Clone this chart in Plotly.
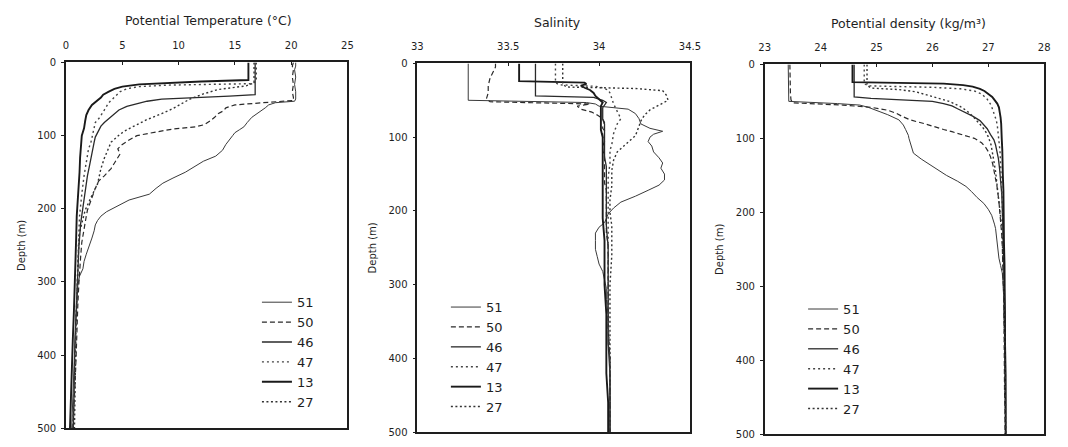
import plotly.graph_objects as go

# Station order and line styles
stations = ["51", "50", "46", "47", "13", "27"]
dash_style = {"51": "solid", "50": "5px,3px", "46": "solid", "47": "2px,3px", "13": "solid", "27": "2px,2.5px"}
line_width = {"51": 1.0, "50": 1.2, "46": 1.3, "47": 1.4, "13": 1.9, "27": 1.4}
line_color = {"51": "#3a3a3a", "50": "#2a2a2a", "46": "#2a2a2a", "47": "#444444", "13": "#1a1a1a", "27": "#333333"}

# ---- Station 51 ----
depth_51 = [0, 5, 10, 20, 30, 40, 50, 53, 55, 58, 62, 68, 75, 82, 88, 92, 96, 100, 106, 112,
            120, 128, 135, 142, 150, 158, 165, 172, 180, 188, 196, 204, 210, 216, 222, 230,
            240, 252, 262, 272, 282, 292, 305, 320, 340, 360, 380, 400, 425, 450, 475, 500]
temp_51 = [20.4, 20.4, 20.3, 20.4, 20.3, 20.4, 20.4, 20.3, 18.6, 18.0, 17.7, 17.1, 16.5, 16.1, 15.8, 15.4,
           15.0, 14.8, 14.5, 14.2, 13.9, 13.3, 12.2, 11.5, 10.6, 9.5, 8.6, 8.0, 7.4, 5.6, 4.6, 3.6,
           3.1, 2.8, 2.6, 2.5, 2.3, 2.0, 1.8, 1.6, 1.5, 1.2, 1.05, 1.0, 0.9, 0.85, 0.8, 0.75, 0.65,
           0.6, 0.55, 0.5]
sal_51 = [33.28, 33.28, 33.28, 33.28, 33.28, 33.28, 33.28, 33.93, 33.98, 34.0, 34.16, 34.2, 34.22, 34.23,
          34.28, 34.35, 34.3, 34.28, 34.27, 34.29, 34.3, 34.33, 34.35, 34.34, 34.36, 34.36, 34.33,
          34.27, 34.2, 34.12, 34.08, 34.05, 34.04, 34.03, 34.0, 33.98, 33.98, 33.98, 33.99, 34.0,
          34.02, 34.03, 34.04, 34.04, 34.05, 34.05, 34.05, 34.06, 34.06, 34.06, 34.06, 34.06]
sigma_51 = [23.42, 23.42, 23.42, 23.42, 23.42, 23.42, 23.43, 24.3, 24.7, 24.85, 25.0, 25.2, 25.4, 25.48,
            25.52, 25.55, 25.57, 25.58, 25.6, 25.62, 25.66, 25.8, 25.95, 26.1, 26.25, 26.45, 26.6,
            26.7, 26.8, 26.92, 27.0, 27.06, 27.09, 27.11, 27.13, 27.14, 27.16, 27.17, 27.19, 27.22,
            27.25, 27.26, 27.27, 27.28, 27.28, 27.29, 27.29, 27.3, 27.3, 27.3, 27.31, 27.31]

# ---- Station 50 ----
depth_50 = [0, 5, 10, 20, 30, 40, 48, 52, 55, 58, 62, 66, 70, 75, 80, 85, 88, 91, 95, 100, 106, 112,
            118, 125, 135, 145, 155, 162, 172, 185, 195, 202, 210, 219, 230, 246, 265, 285, 300,
            330, 360, 400, 440, 470, 500]
temp_50 = [20.2, 20.1, 20.2, 20.1, 20.2, 20.1, 20.2, 20.2, 17.5, 15.0, 14.2, 14.0, 13.5, 13.2, 12.8,
           12.3, 11.5, 9.5, 8.0, 6.3, 5.6, 5.0, 4.6, 4.8, 4.4, 4.0, 3.4, 2.9, 2.6, 2.3, 2.0, 1.9,
           1.8, 1.7, 1.6, 1.4, 1.3, 1.2, 1.15, 1.05, 1.0, 0.9, 0.8, 0.7, 0.6]
sal_50 = [33.43, 33.43, 33.42, 33.40, 33.39, 33.39, 33.38, 33.40, 33.95, 33.88, 33.9, 33.96, 33.99,
          34.02, 34.03, 34.02, 34.02, 34.03, 34.02, 34.02, 34.03, 34.02, 34.02, 34.03, 34.03, 34.03,
          34.03, 34.03, 34.04, 34.04, 34.04, 34.04, 34.04, 34.04, 34.04, 34.05, 34.05, 34.05, 34.05,
          34.05, 34.05, 34.06, 34.06, 34.06, 34.06]
sigma_50 = [23.45, 23.45, 23.45, 23.46, 23.46, 23.46, 23.47, 23.5, 24.4, 24.9, 25.2, 25.35, 25.45,
            25.6, 25.85, 26.05, 26.2, 26.35, 26.55, 26.75, 26.88, 26.95, 27.0, 27.04, 27.08, 27.1,
            27.13, 27.15, 27.17, 27.19, 27.2, 27.21, 27.22, 27.23, 27.24, 27.25, 27.26, 27.27, 27.27,
            27.28, 27.28, 27.29, 27.29, 27.3, 27.3]

# ---- Station 46 ----
depth_46 = [0, 5, 10, 20, 30, 40, 44, 46, 48, 50, 53, 56, 60, 65, 70, 76, 82, 87, 95, 102, 109, 118,
            127, 140, 155, 175, 195, 220, 250, 280, 300, 340, 380, 420, 460, 500]
temp_46 = [16.8, 16.8, 16.8, 16.8, 16.8, 16.8, 16.8, 14.5, 11.0, 8.5, 7.2, 6.3, 5.4, 4.7, 4.3, 3.8,
           3.4, 3.1, 2.8, 2.6, 2.5, 2.4, 2.3, 2.1, 1.9, 1.7, 1.5, 1.3, 1.15, 1.05, 1.0, 0.9, 0.8,
           0.75, 0.7, 0.65]
sal_46 = [33.65, 33.65, 33.65, 33.65, 33.65, 33.65, 33.65, 33.97, 34.0, 34.02, 34.04, 34.03, 34.02,
          34.02, 34.02, 34.02, 34.03, 34.03, 34.03, 34.03, 34.03, 34.03, 34.03, 34.04, 34.04, 34.04,
          34.04, 34.04, 34.05, 34.05, 34.05, 34.05, 34.05, 34.06, 34.06, 34.06]
sigma_46 = [24.6, 24.6, 24.6, 24.6, 24.6, 24.6, 24.6, 24.9, 25.6, 26.0, 26.2, 26.35, 26.45, 26.6,
            26.72, 26.85, 26.93, 26.98, 27.04, 27.1, 27.13, 27.16, 27.18, 27.2, 27.22, 27.24, 27.25,
            27.26, 27.27, 27.28, 27.29, 27.3, 27.3, 27.31, 27.31, 27.31]

# ---- Station 47 ----
depth_47 = [0, 5, 10, 20, 26, 29, 31, 33, 36, 40, 47, 55, 65, 75, 82, 95, 110, 118, 135, 155, 180,
            210, 250, 300, 350, 400, 450, 500]
temp_47 = [16.9, 16.9, 16.9, 16.9, 16.9, 16.5, 9.0, 6.5, 5.4, 4.8, 4.3, 3.8, 3.4, 3.0, 2.6, 2.4,
           2.2, 2.0, 1.8, 1.6, 1.4, 1.2, 1.1, 1.0, 0.9, 0.8, 0.7, 0.6]
sal_47 = [33.76, 33.76, 33.76, 33.76, 33.76, 33.78, 33.98, 34.02, 34.05, 34.06, 34.07, 34.08, 34.1,
          34.12, 34.1, 34.08, 34.07, 34.06, 34.06, 34.05, 34.05, 34.05, 34.05, 34.05, 34.05, 34.06,
          34.06, 34.06]
sigma_47 = [24.78, 24.78, 24.78, 24.78, 24.78, 24.85, 26.0, 26.5, 26.75, 26.88, 26.98, 27.05, 27.1,
            27.14, 27.16, 27.18, 27.2, 27.21, 27.22, 27.23, 27.25, 27.26, 27.27, 27.28, 27.29, 27.3,
            27.3, 27.31]

# ---- Station 13 ----
depth_13 = [0, 5, 10, 15, 20, 24, 26, 28, 30, 33, 36, 40, 44, 48, 53, 58, 65, 72, 80, 90, 100, 115,
            130, 150, 170, 190, 210, 240, 270, 300, 340, 380, 420, 460, 500]
temp_13 = [16.2, 16.2, 16.2, 16.2, 16.2, 16.2, 12.0, 8.4, 6.5, 5.0, 4.3, 3.8, 3.3, 3.1, 2.7, 2.3,
           2.0, 1.8, 1.7, 1.6, 1.4, 1.3, 1.25, 1.2, 1.1, 1.0, 0.95, 0.9, 0.85, 0.8, 0.7, 0.6, 0.5,
           0.4, 0.35]
sal_13 = [33.56, 33.56, 33.56, 33.56, 33.56, 33.56, 33.92, 33.93, 33.9, 33.92, 33.95, 33.97, 33.98,
          34.0, 34.02, 34.01, 34.01, 34.01, 34.01, 34.01, 34.02, 34.02, 34.02, 34.02, 34.02, 34.02,
          34.02, 34.03, 34.03, 34.03, 34.04, 34.04, 34.04, 34.05, 34.05]
sigma_13 = [24.57, 24.57, 24.57, 24.57, 24.57, 24.57, 26.2, 26.55, 26.72, 26.85, 26.93, 27.0, 27.07,
            27.11, 27.16, 27.19, 27.21, 27.22, 27.23, 27.24, 27.24, 27.25, 27.26, 27.26, 27.27, 27.27,
            27.28, 27.28, 27.29, 27.29, 27.3, 27.3, 27.31, 27.31, 27.31]

# ---- Station 27 ----
depth_27 = [0, 5, 10, 20, 28, 32, 34, 37, 43, 50, 57, 63, 70, 78, 85, 92, 98, 109, 120, 131, 145,
            166, 185, 202, 220, 233, 260, 300, 350, 400, 450, 500]
temp_27 = [16.7, 16.7, 16.7, 16.7, 16.7, 16.0, 15.0, 13.5, 12.2, 11.0, 10.2, 9.5, 8.5, 7.2, 6.3,
           5.4, 4.8, 4.0, 3.7, 3.4, 3.1, 2.8, 2.2, 1.7, 1.4, 1.2, 1.1, 1.0, 0.9, 0.85, 0.8, 0.75]
sal_27 = [33.80, 33.80, 33.80, 33.80, 33.80, 33.82, 34.2, 34.35, 34.37, 34.38, 34.33, 34.28, 34.25,
          34.23, 34.22, 34.21, 34.2, 34.15, 34.1, 34.08, 34.07, 34.07, 34.06, 34.06, 34.07, 34.07,
          34.07, 34.06, 34.06, 34.06, 34.06, 34.06]
sigma_27 = [24.83, 24.83, 24.83, 24.83, 24.83, 24.9, 25.4, 25.7, 26.0, 26.3, 26.5, 26.62, 26.72,
            26.82, 26.9, 26.96, 27.0, 27.05, 27.08, 27.1, 27.13, 27.16, 27.2, 27.22, 27.24, 27.25,
            27.26, 27.28, 27.29, 27.3, 27.3, 27.31]

depths = {"51": depth_51, "50": depth_50, "46": depth_46, "47": depth_47, "13": depth_13, "27": depth_27}
temps = {"51": temp_51, "50": temp_50, "46": temp_46, "47": temp_47, "13": temp_13, "27": temp_27}
sals = {"51": sal_51, "50": sal_50, "46": sal_46, "47": sal_47, "13": sal_13, "27": sal_27}
sigmas = {"51": sigma_51, "50": sigma_50, "46": sigma_46, "47": sigma_47, "13": sigma_13, "27": sigma_27}

# Axis ranges and tick labels
temp_ticks = [0, 5, 10, 15, 20, 25]
sal_ticks = [33, 33.5, 34, 34.5]
sal_tick_text = ["33", "33.5", "34", "34.5"]
sigma_ticks = [23, 24, 25, 26, 27, 28]
depth_ticks = [0, 100, 200, 300, 400, 500]

panel_titles = ["Potential Temperature (°C)", "Salinity", "Potential density (kg/m³)"]

FONT = "DejaVu Sans, Verdana, sans-serif"
INK = "#1e1e1e"
W, H = 1068, 447

fig = go.Figure()

panels = [
    (temps, "x", "y", "legend"),
    (sals, "x2", "y2", "legend2"),
    (sigmas, "x3", "y3", "legend3"),
]
for values, xa, ya, leg in panels:
    for st in stations:
        fig.add_trace(go.Scatter(
            x=values[st], y=depths[st], xaxis=xa, yaxis=ya, mode="lines", name=st,
            legend=leg, showlegend=True,
            line=dict(color=line_color[st], width=line_width[st], dash=dash_style[st]),
        ))

# pixel boxes of each plot area: (left, right, top, bottom)
boxes = [(61, 347, 58, 434), (418, 695, 59, 438), (771, 1055, 60, 440)]


def xdom(b):
    return [b[0] / W, b[1] / W]


def ydom(b):
    return [1 - b[3] / H, 1 - b[2] / H]


common_x = dict(side="top", ticks="inside", ticklen=3, tickwidth=1, tickcolor=INK,
                ticklabelstandoff=8,
                showline=True, mirror=True, linecolor=INK, linewidth=1.6,
                showgrid=False, zeroline=False, tickfont=dict(family=FONT, size=10, color=INK))
common_y = dict(range=[500, 0], tickvals=depth_ticks, ticks="outside", ticklen=3, tickwidth=1,
                tickcolor=INK, ticklabelstandoff=3, showline=True, mirror=True, linecolor=INK,
                linewidth=1.6, showgrid=False, zeroline=False,
                tickfont=dict(family=FONT, size=10, color=INK),
                title=dict(text="Depth (m)", font=dict(family=FONT, size=10, color=INK), standoff=10))

fig.update_layout(
    width=W, height=H, margin=dict(l=0, r=0, t=0, b=0),
    paper_bgcolor="white", plot_bgcolor="white",
    font=dict(family=FONT, color=INK),
    xaxis=dict(domain=xdom(boxes[0]), range=[0, 25], tickvals=temp_ticks, anchor="y", **common_x),
    yaxis=dict(domain=ydom(boxes[0]), anchor="x", **common_y),
    xaxis2=dict(domain=xdom(boxes[1]), range=[33, 34.5], tickvals=sal_ticks, ticktext=sal_tick_text,
                anchor="y2", **common_x),
    yaxis2=dict(domain=ydom(boxes[1]), anchor="x2", **common_y),
    xaxis3=dict(domain=xdom(boxes[2]), range=[23, 28], tickvals=sigma_ticks, anchor="y3", **common_x),
    yaxis3=dict(domain=ydom(boxes[2]), anchor="x3", **common_y),
)

legend_style = dict(font=dict(family=FONT, size=13, color=INK), bgcolor="rgba(0,0,0,0)",
                    borderwidth=0, tracegroupgap=0, itemwidth=30, xanchor="left", yanchor="top")
fig.update_layout(
    legend=dict(x=255 / W, y=1 - 289 / H, **legend_style),
    legend2=dict(x=447 / W, y=1 - 294 / H, **legend_style),
    legend3=dict(x=810 / W, y=1 - 296 / H, **legend_style),
)

# panel headings
title_pos = [(206, 15), (560, 17), (917, 18)]
for text, (px, py) in zip(panel_titles, title_pos):
    fig.add_annotation(text=text, x=px / W, y=1 - py / H, xref="paper", yref="paper",
                       showarrow=False, xanchor="center", yanchor="middle",
                       font=dict(family=FONT, size=12.5, color=INK))

fig.write_html("out.html")
